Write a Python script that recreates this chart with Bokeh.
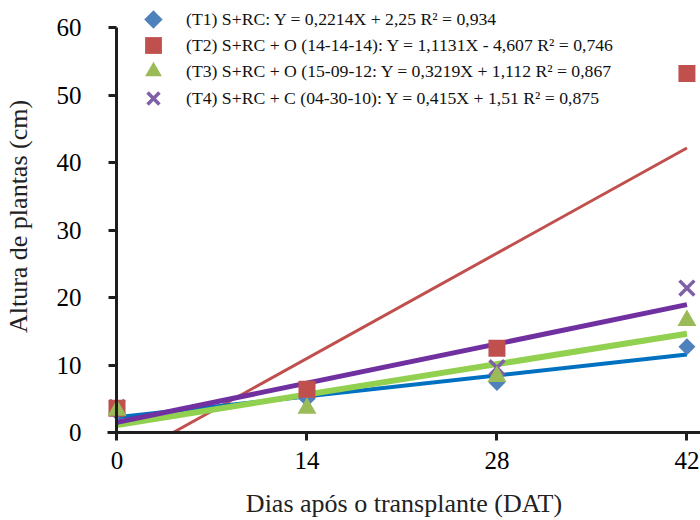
import math
from bokeh.plotting import figure
from bokeh.models import Range1d, FixedTicker, Legend, LegendItem, LinearAxis
from bokeh.embed import file_html
from bokeh.resources import INLINE

# ---- data ----
dat = [0, 14, 28, 42]
t1_vals = [3.0, 5.0, 7.4, 12.7]
t2_vals = [3.6, 6.4, 12.5, 53.2]
t3_vals = [3.3, 3.6, 8.3, 16.6]
t4_vals = [3.7, 6.0, 9.6, 21.4]

slopes = [0.2214, 1.1131, 0.3219, 0.415]
intercepts = [2.25, -4.607, 1.112, 1.51]

labels = [
    "(T1) S+RC: Y = 0,2214X + 2,25 R\u00b2 = 0,934",
    "(T2) S+RC + O (14-14-14): Y = 1,1131X - 4,607 R\u00b2 = 0,746",
    "(T3) S+RC + O (15-09-12: Y = 0,3219X + 1,112 R\u00b2 = 0,867",
    "(T4) S+RC + C (04-30-10): Y = 0,415X + 1,51 R\u00b2 = 0,875",
]
x_ticks = [0, 14, 28, 42]
y_ticks = [0, 10, 20, 30, 40, 50, 60]

FONT = "Liberation Serif"
line_colors = ["#0070C0", "#C0504D", "#92D050", "#7030A0"]
line_widths = [4, 3, 6, 5]
marker_colors = ["#4F81BD", "#C0504D", "#9BBB59", "#7F5FA6"]
AX = "#1e1e1e"

# layout constants
W, H = 700, 520
BL, BB = 106, 88
X0, X1, Y0, Y1 = -0.70, 43.0, 0.0, 64.0

p = figure(width=W, height=H, output_backend="svg", toolbar_location=None,
           x_range=Range1d(X0, X1), y_range=Range1d(Y0, Y1),
           min_border_left=BL, min_border_right=0, min_border_top=0, min_border_bottom=BB)
p.outline_line_color = None
p.grid.visible = False
p.background_fill_color = "white"

# trend lines
for i in [1, 0, 2, 3]:
    a, b = slopes[i], intercepts[i]
    xs = max(0.0, -b / a)
    xe = dat[-1]
    p.line([xs, xe], [a * xs + b, a * xe + b], line_color=line_colors[i],
           line_width=line_widths[i])

# markers
r4 = p.scatter(dat, t4_vals, marker="x", size=21, line_color=marker_colors[3], line_width=3.5)
r1 = p.scatter(dat, t1_vals, marker="square", angle=math.pi / 4, size=12,
               fill_color=marker_colors[0], line_color=None)
r2 = p.scatter(dat, t2_vals, marker="square", size=17, fill_color=marker_colors[1], line_color=None)
r3 = p.scatter(dat, t3_vals, marker="triangle", size=19, fill_color=marker_colors[2], line_color=None)

# blank legend key for T1 (legend keys cannot be rotated; its rhombus key is drawn below)
r1_blank = p.scatter([], [], marker="square", size=1, fill_alpha=0, line_alpha=0)

# legend: one box per row
LEG_X, GLYPH = 25, 42
row_bottoms = [392, 366, 340, 313]
for lab, rend, yb in zip(labels, [r1_blank, r2, r3, r4], row_bottoms):
    lg = Legend(items=[LegendItem(label=lab, renderers=[rend])],
                location=(LEG_X, yb), glyph_width=GLYPH, glyph_height=GLYPH, padding=0, margin=0,
                label_standoff=12, label_text_font=FONT, label_text_font_size="17.7px",
                label_text_color="#111111", background_fill_alpha=0, border_line_alpha=0)
    p.add_layout(lg, "center")

# rhombus legend key for T1, positioned from the legend layout constants
frame_w = W - BL
frame_h = H - BB
kx = X0 + (LEG_X + GLYPH / 2) / frame_w * (X1 - X0)
ky = Y0 + (row_bottoms[0] + GLYPH / 2) / frame_h * (Y1 - Y0)
p.scatter([kx], [ky], marker="square", angle=math.pi / 4, size=13,
          fill_color=marker_colors[0], line_color=None)

xa = p.xaxis[0]
ya = p.yaxis[0]
yline = LinearAxis(fixed_location=0, bounds=(0, 60), ticker=FixedTicker(ticks=y_ticks))
p.add_layout(yline, "left")

for ax in (xa, ya, yline):
    ax.axis_line_width = 3
    ax.axis_line_color = AX
    ax.major_tick_line_width = 3
    ax.major_tick_line_color = AX
    ax.major_tick_in = 0
    ax.major_tick_out = 8
    ax.minor_tick_line_color = None
    ax.major_label_text_font = FONT
    ax.major_label_text_font_size = "25px"
    ax.major_label_text_color = "black"
    ax.axis_label_text_font = FONT
    ax.axis_label_text_font_size = "26px"
    ax.axis_label_text_font_style = "normal"
    ax.axis_label_text_color = "#222222"

xa.ticker = FixedTicker(ticks=x_ticks)
xa.axis_label = "Dias após o transplante (DAT)"
xa.major_label_standoff = 11
xa.axis_label_standoff = 17

ya.ticker = FixedTicker(ticks=y_ticks)
ya.bounds = (0, 60)
ya.axis_line_color = None
ya.major_tick_line_color = None
ya.major_tick_out = 0
ya.major_label_standoff = 26
ya.axis_label = "Altura de plantas (cm)"
ya.axis_label_standoff = 21

yline.major_label_text_alpha = 0
yline.major_label_text_font_size = "1px"

open("out.html", "w").write(file_html(p, INLINE))
